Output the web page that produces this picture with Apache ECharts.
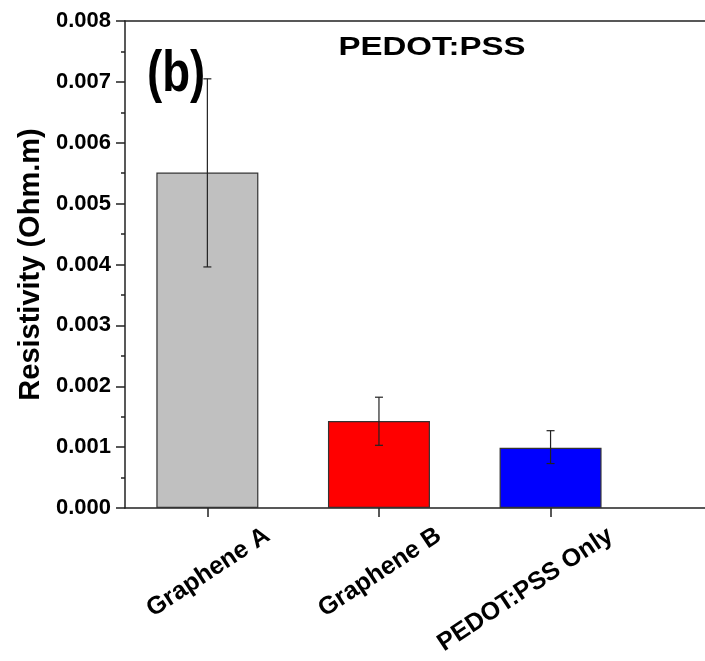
<!DOCTYPE html>
<html lang="en">
<head>
    <meta charset="UTF-8">
    <title>PEDOT:PSS resistivity</title>
    <script type="text/javascript" src="https://cdn.jsdelivr.net/npm/echarts@6/dist/echarts.min.js"></script>
</head>
<body style="margin:0;background:#fff;">
<div id="main" style="width: 705px;height: 661px;"></div>

<script type="text/javascript">

    var categories = ['Graphene A', 'Graphene B', 'PEDOT:PSS Only'];
    var positions = [1, 2, 3];
    var resistivity = [0.00551, 0.00143, 0.00099];
    var errLow = [0.00396, 0.00103, 0.00073];
    var errHigh = [0.00705, 0.00182, 0.00127];
    var barColors = ['#c0c0c0', '#ff0000', '#0000ff'];

    var font = 'Arial, "Liberation Sans", sans-serif';
    var axisColor = '#222';

    var chart = echarts.init(document.getElementById('main'));

    var barData = resistivity.map(function (v, i) {
        return {value: [positions[i], v], itemStyle: {color: barColors[i]}};
    });
    var errData = resistivity.map(function (v, i) {
        return [positions[i], errLow[i], errHigh[i]];
    });

    var option = {
        backgroundColor: '#fff',
        animation: false,
        graphic: [
            {
                type: 'text', x: 147, y: 75, scaleX: 0.8,
                style: {text: '(b)', x: 0, y: 0, textAlign: 'left', textVerticalAlign: 'middle',
                    font: 'bold 57px ' + font, fill: '#000'}
            },
            {
                type: 'text', x: 432, y: 48, scaleX: 1.27,
                style: {text: 'PEDOT:PSS', x: 0, y: 0, textAlign: 'center', textVerticalAlign: 'middle',
                    font: 'bold 26px ' + font, fill: '#000'}
            }
        ],
        grid: {left: 125, top: 21, right: 0, bottom: 153},
        xAxis: [
            {
                type: 'value', min: 0.52, max: 3.9,
                splitLine: {show: false},
                axisLine: {lineStyle: {color: axisColor, width: 1.5}},
                axisTick: {customValues: positions, length: 9, lineStyle: {color: axisColor, width: 1.5}},
                axisLabel: {
                    customValues: positions,
                    rotate: 33.5, margin: 65, padding: [0, -72, 0, 0],
                    fontFamily: font, fontSize: 25, fontWeight: 'bold', color: '#000',
                    formatter: function (v) { return categories[Math.round(v) - 1]; }
                }
            },
            {
                // top frame line
                type: 'value', position: 'top', min: 0.52, max: 3.9,
                splitLine: {show: false},
                axisLine: {lineStyle: {color: axisColor, width: 1.5}},
                axisTick: {show: false},
                axisLabel: {show: false}
            }
        ],
        yAxis: {
            type: 'value', min: 0, max: 0.008, interval: 0.001,
            name: 'Resistivity (Ohm.m)', nameLocation: 'middle', nameGap: 77,
            nameTextStyle: {fontFamily: font, fontSize: 29, fontWeight: 'bold', color: '#000'},
            axisLine: {show: true, lineStyle: {color: axisColor, width: 1.5}},
            axisTick: {show: true, length: 9, lineStyle: {color: axisColor, width: 1.5}},
            minorTick: {show: true, splitNumber: 2, length: 4, lineStyle: {color: axisColor, width: 1.5}},
            splitLine: {show: false},
            axisLabel: {
                margin: 14, fontFamily: font, fontSize: 22, fontWeight: 'bold', color: '#000',
                formatter: function (v) { return v.toFixed(3); }
            }
        },
        series: [
            {
                type: 'bar',
                barWidth: 102,
                itemStyle: {borderColor: '#333', borderWidth: 1.2},
                data: barData
            },
            {
                type: 'custom',
                data: errData,
                renderItem: function (params, api) {
                    var lo = api.coord([api.value(0), api.value(1)]);
                    var hi = api.coord([api.value(0), api.value(2)]);
                    var cap = 4;
                    var style = {stroke: '#222', lineWidth: 1.2};
                    return {
                        type: 'group',
                        children: [
                            {type: 'line', shape: {x1: hi[0], y1: hi[1], x2: lo[0], y2: lo[1]}, style: style},
                            {type: 'line', shape: {x1: hi[0] - cap, y1: hi[1], x2: hi[0] + cap, y2: hi[1]}, style: style},
                            {type: 'line', shape: {x1: lo[0] - cap, y1: lo[1], x2: lo[0] + cap, y2: lo[1]}, style: style}
                        ]
                    };
                },
                z: 5
            }
        ]
    };

    chart.setOption(option);
</script>
</body>
</html>
